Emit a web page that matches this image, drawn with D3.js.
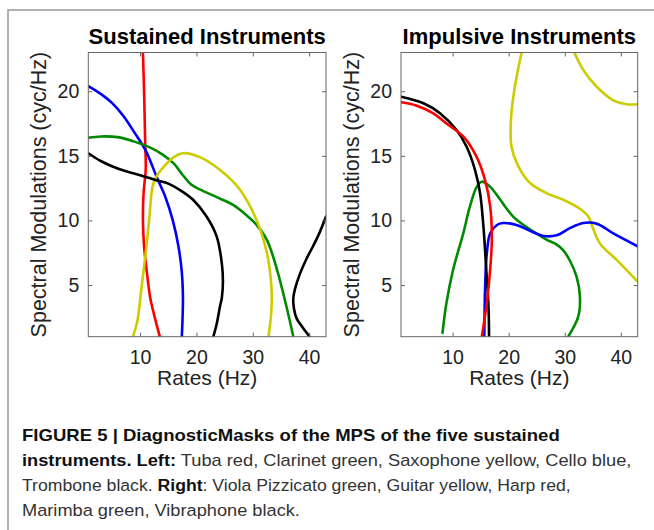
<!DOCTYPE html>
<html>
<head>
<meta charset="utf-8">
<script src="https://cdn.jsdelivr.net/npm/d3@7"></script>
<style>
  body { margin: 0; background: #fff; }
  svg { display: block; font-family: "Liberation Sans", Arial, sans-serif; }
</style>
</head>
<body>
<svg id="fig" width="654" height="530"></svg>
<script>
// axis ticks
const rateTicks = [10, 20, 30, 40];
const modTicks = [5, 10, 15, 20];
const rateDomain = [0.8, 43];
const modDomain = [1, 23];

// sustained instruments, [rate Hz, spectral modulation cyc/Hz]
const tubaRed = [[10.5,23],[10.7,20],[10.9,16],[11.0,14],[10.8,13],[10.6,12],[10.5,10],[10.7,8],[11.2,6],[11.8,4],[12.6,2.5],[13.5,1]];
const clarinetGreen = [[0.8,16.4],[3,16.5],[6,16.45],[9,16.1],[12,15.6],[14,15.1],[16,14.4],[17.6,13.5],[19,12.8],[20.6,12.4],[23.6,11.8],[26.5,11.2],[28.9,10.4],[30.6,9.7],[32.5,8.5],[34.3,6.2],[36,3.3],[37.2,1]];
const saxophoneYellow = [[8.7,1],[9.5,2.2],[10.3,5],[11.0,7.5],[11.6,10],[12.2,12.6],[12.9,13.4],[14.7,14.4],[16,14.9],[17.5,15.2],[20.6,14.9],[24.2,13.9],[27.7,12.4],[30.7,10],[32.5,7.5],[33.3,4.9],[33.3,3],[32.8,1]];
const celloBlue = [[0.8,20.4],[3,19.8],[5,19.1],[7,18.1],[9,16.8],[11,15.4],[13,13.3],[14.5,11.8],[15.8,10],[16.8,8],[17.4,6],[17.6,4],[17.5,2],[17.4,1]];
const tromboneBlack = [[0.8,15.2],[3,14.6],[5,14.2],[7.5,13.8],[10,13.5],[13,13.1],[15,12.85],[17.1,12.35],[19.4,11.6],[21.8,10.3],[23.6,8.75],[24.5,6.7],[24.7,5.3],[24.5,4],[24.2,3.4],[23.6,2],[23.0,1]];
const tromboneBlack2 = [[43,10.3],[41.8,9],[40.7,8],[39.5,7],[38.4,5.9],[37.5,4.7],[37.2,4],[37.3,3.2],[37.8,2.4],[38.9,1.7],[40.1,1]];

// impulsive instruments
const violaGreen = [[8.2,1.3],[8.9,3.6],[10.1,6.2],[11.9,9.0],[13.1,11.1],[14.3,12.6],[15.2,13.0],[16.7,12.6],[18.5,11.6],[20.8,10.3],[23.8,9.3],[25.3,8.9],[26.8,8.5],[28.3,8.2],[29.7,7.7],[30.9,6.9],[32.1,5.65],[32.7,4.1],[32.4,2.55],[30.6,1]];
const guitarYellow = [[22.3,23],[21.1,20.35],[20.4,17.8],[20.5,15.7],[21.7,14.2],[23.8,12.9],[26.8,12.1],[29.7,11.6],[32.7,10.9],[34.2,10.3],[35.1,9.3],[36.3,8.2],[39.25,6.95],[43,5.26]];
const guitarYellow2 = [[31.7,23],[33.3,21.65],[35.7,20.35],[38.65,19.3],[41,19.0],[43,19.0]];
const harpRed = [[0.8,19.15],[3.5,18.9],[6.5,18.3],[8.9,17.5],[11.9,16.5],[14.3,14.9],[15.8,13.1],[16.7,11.1],[17.0,8.7],[16.7,6.2],[16.1,3.6],[15.2,1]];
const marimbaBlue = [[15.65,1],[15.8,4.9],[16.1,7.45],[16.7,9.0],[17.9,9.65],[19.0,9.8],[21.4,9.65],[23.8,9.2],[26.2,8.8],[28.55,8.85],[30.9,9.4],[33.3,9.8],[35.7,9.75],[38.65,9.0],[43,8.0]];
const vibraphoneBlack = [[0.8,19.58],[4.8,19.07],[7.75,18.3],[10.7,17.0],[12.5,15.7],[14.0,13.9],[14.9,12.1],[15.5,9.5],[16.0,6.2],[16.4,3.3],[16.5,1]];

const panels = [
  { title: "Sustained Instruments", left: 88.3, right: 326,
    curves: [
      { pts: tubaRed, color: "#ff0000" },
      { pts: celloBlue, color: "#0000ff" },
      { pts: clarinetGreen, color: "#008a00" },
      { pts: saxophoneYellow, color: "#cccc00" },
      { pts: tromboneBlack, color: "#000" },
      { pts: tromboneBlack2, color: "#000" },
    ] },
  { title: "Impulsive Instruments", left: 401, right: 637.7,
    curves: [
      { pts: guitarYellow, color: "#cccc00" },
      { pts: guitarYellow2, color: "#cccc00" },
      { pts: violaGreen, color: "#008a00" },
      { pts: marimbaBlue, color: "#0000ff" },
      { pts: vibraphoneBlack, color: "#000" },
      { pts: harpRed, color: "#ff0000" },
    ] },
];

const plotTop = 52.5, plotBottom = 336.7;
const svg = d3.select("#fig");

// outer frame
svg.append("path")
    .attr("d", "M8,530 V10 H654")
    .attr("fill", "none")
    .attr("stroke", "#999")
    .attr("stroke-width", 1.5);

panels.forEach((p, i) => {
  const x = d3.scaleLinear().domain(rateDomain).range([p.left, p.right]);
  const y = d3.scaleLinear().domain(modDomain).range([plotBottom, plotTop]);
  const g = svg.append("g");

  g.append("clipPath").attr("id", "clip" + i)
    .append("rect")
      .attr("x", p.left).attr("y", plotTop)
      .attr("width", p.right - p.left).attr("height", plotBottom - plotTop);

  const line = d3.line()
      .x(d => x(d[0]))
      .y(d => y(d[1]))
      .curve(d3.curveCatmullRom.alpha(0.5));

  g.append("g").attr("clip-path", `url(#clip${i})`)
    .selectAll("path")
    .data(p.curves)
    .join("path")
      .attr("d", d => line(d.pts))
      .attr("fill", "none")
      .attr("stroke", d => d.color)
      .attr("stroke-width", 2.6)
      .attr("stroke-linecap", "round")
      .attr("stroke-linejoin", "round");

  // axes, ticks pointing inward on all four sides
  const axes = [
    [d3.axisBottom(x).tickValues(rateTicks).tickPadding(13), `translate(0,${plotBottom})`],
    [d3.axisTop(x).tickValues(rateTicks).tickFormat(""), `translate(0,${plotTop})`],
    [d3.axisLeft(y).tickValues(modTicks).tickPadding(9), `translate(${p.left},0)`],
    [d3.axisRight(y).tickValues(modTicks).tickFormat(""), `translate(${p.right},0)`],
  ];
  axes.forEach(([ax, tr]) => {
    const a = g.append("g").attr("transform", tr)
      .call(ax.tickSizeInner(-4).tickSizeOuter(0));
    a.select(".domain").remove();
    a.selectAll("line").attr("stroke", "#666");
    a.selectAll("text")
      .attr("font-size", 19.5)
      .attr("font-family", "Liberation Sans, Arial, sans-serif")
      .attr("fill", "#222");
  });

  g.append("rect")
      .attr("x", p.left).attr("y", plotTop)
      .attr("width", p.right - p.left).attr("height", plotBottom - plotTop)
      .attr("fill", "none")
      .attr("stroke", "#666")
      .attr("stroke-width", 1);

  g.append("text")
      .attr("x", (p.left + p.right) / 2)
      .attr("y", 44)
      .attr("text-anchor", "middle")
      .attr("font-size", 22)
      .attr("font-weight", "bold")
      .attr("fill", "#000")
      .text(p.title);

  g.append("text")
      .attr("x", (p.left + p.right) / 2)
      .attr("y", 385)
      .attr("text-anchor", "middle")
      .attr("font-size", 21)
      .attr("fill", "#222")
      .text("Rates (Hz)");

  g.append("text")
      .attr("transform", `translate(${p.left - 42.5},${(plotTop + plotBottom) / 2}) rotate(-90)`)
      .attr("text-anchor", "middle")
      .attr("font-size", 21.5)
      .attr("fill", "#222")
      .text("Spectral Modulations (cyc/Hz)");
});

// caption
const captionLines = [
  [["FIGURE 5 | DiagnosticMasks of the MPS of the five sustained", true]],
  [["instruments. Left:", true], [" Tuba red, Clarinet green, Saxophone yellow, Cello blue,", false]],
  [["Trombone black. ", false], ["Right", true], [": Viola Pizzicato green, Guitar yellow, Harp red,", false]],
  [["Marimba green, Vibraphone black.", false]],
];
const captionX = 22;
const captionWidths = [538, 610, 549, 278];

captionLines.forEach((parts, i) => {
  const t = svg.append("text")
      .attr("x", captionX)
      .attr("y", 441 + i * 25)
      .attr("font-size", 17)
      .attr("fill", "#222");
  parts.forEach(([s, b]) => {
    t.append("tspan")
      .attr("font-weight", b ? "bold" : "normal")
      .attr("fill", b ? "#111" : "#333")
      .text(s);
  });
  const w = t.node().getComputedTextLength();
  const k = captionWidths[i] / w;
  t.attr("transform", `translate(${captionX - captionX * k},0) scale(${k},1)`);
});
</script>
</body>
</html>
